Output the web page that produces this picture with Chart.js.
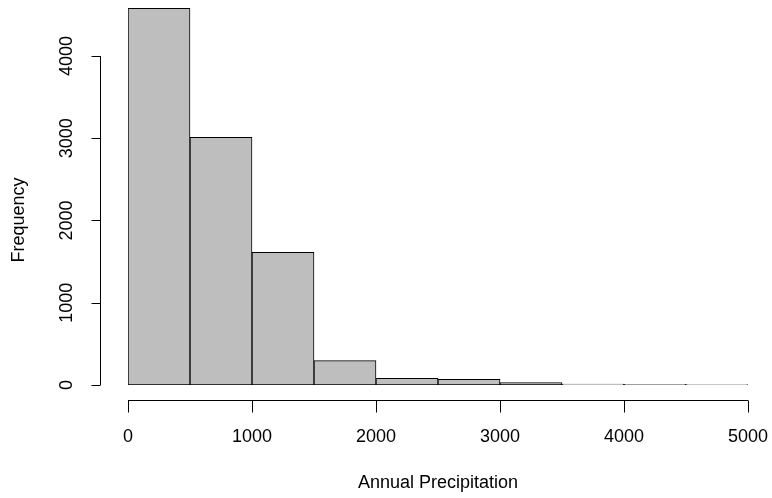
<!DOCTYPE html>
<html>
<head>
<meta charset="utf-8">
<script src="https://cdn.jsdelivr.net/npm/chart.js@4"></script>
<style>
  html, body { margin: 0; padding: 0; background: #fff; }
  #wrap { width: 772px; height: 498px; }
</style>
</head>
<body>
<div id="wrap"><canvas id="histPrecip"></canvas></div>
<script>
// histogram bins (lower edges), bin width 500
const binStarts = [0, 500, 1000, 1500, 2000, 2500, 3000, 3500, 4000, 4500];
const binWidth = 500;
const counts = [4579, 3010, 1612, 296, 82, 70, 28, 10, 7, 5];
const xTicks = [0, 1000, 2000, 3000, 4000, 5000];
const yTicks = [0, 1000, 2000, 3000, 4000];
const xTitle = 'Annual Precipitation';
const yTitle = 'Frequency';

const FONT = '18px "Liberation Sans", Arial, Helvetica, sans-serif';

// R style axes, detached from the plot region
const baseAxes = {
  id: 'baseAxes',
  afterDraw(chart) {
    const c = chart.ctx;
    const area = chart.chartArea;
    const xs = chart.scales.x, ys = chart.scales.y;
    const axY = Math.round(area.bottom + 15) + 0.5;
    const axX = Math.round(area.left - 28) + 0.5;
    c.save();
    c.strokeStyle = '#000';
    c.fillStyle = '#000';
    c.lineWidth = 1;
    c.font = FONT;

    // x axis
    c.beginPath();
    c.moveTo(xs.getPixelForValue(xTicks[0]), axY);
    c.lineTo(xs.getPixelForValue(xTicks[xTicks.length - 1]), axY);
    xTicks.forEach(t => {
      const px = Math.round(xs.getPixelForValue(t)) + 0.5;
      c.moveTo(px, axY);
      c.lineTo(px, axY + 12);
    });
    c.stroke();
    c.textAlign = 'center';
    c.textBaseline = 'middle';
    xTicks.forEach(t => c.fillText(String(t), xs.getPixelForValue(t), 437));
    c.fillText(xTitle, xs.getPixelForValue(2500), 483);

    // y axis
    c.beginPath();
    c.moveTo(axX, ys.getPixelForValue(yTicks[0]));
    c.lineTo(axX, ys.getPixelForValue(yTicks[yTicks.length - 1]));
    yTicks.forEach(t => {
      const py = Math.round(ys.getPixelForValue(t)) + 0.5;
      c.moveTo(axX, py);
      c.lineTo(axX - 9, py);
    });
    c.stroke();
    yTicks.forEach(t => {
      c.save();
      c.translate(67, ys.getPixelForValue(t));
      c.rotate(-Math.PI / 2);
      c.fillText(String(t), 0, 0);
      c.restore();
    });
    c.save();
    c.translate(19, 220);
    c.rotate(-Math.PI / 2);
    c.fillText(yTitle, 0, 0);
    c.restore();
    c.restore();
  }
};

new Chart(document.getElementById('histPrecip'), {
  type: 'bar',
  data: {
    datasets: [{
      data: binStarts.map((b, i) => ({ x: b + binWidth / 2, y: counts[i] })),
      backgroundColor: '#bebebe',
      borderColor: '#000',
      borderWidth: 1,
      borderSkipped: false,
      barPercentage: 1,
      categoryPercentage: 1
    }]
  },
  plugins: [baseAxes],
  options: {
    responsive: true,
    maintainAspectRatio: false,
    animation: false,
    layout: { padding: { left: 128, right: 24, top: 0, bottom: 113 } },
    plugins: {
      legend: { display: false },
      tooltip: { enabled: false }
    },
    scales: {
      x: { type: 'linear', min: 0, max: 5000, offset: false, display: false },
      y: { min: 0, max: 4680, display: false }
    }
  }
});
</script>
</body>
</html>
